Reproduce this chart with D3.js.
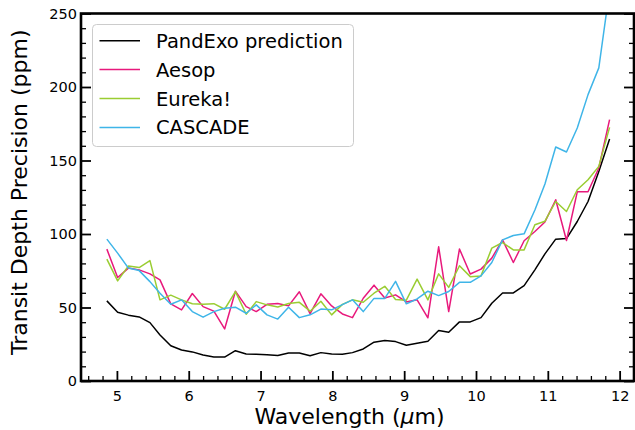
<!DOCTYPE html>
<html>
<head>
<meta charset="utf-8">
<script src="https://cdn.jsdelivr.net/npm/d3@7"></script>
<style>
  html, body { margin: 0; padding: 0; background: #fff; }
  svg { display: block; font-family: "DejaVu Sans", sans-serif; }
</style>
</head>
<body>
<svg id="chart" width="635" height="430"></svg>
<script>
// Wavelength bin centres (µm)
const wavelength = [4.86, 5.01, 5.16, 5.31, 5.46, 5.60, 5.75, 5.90, 6.05, 6.20,
  6.35, 6.50, 6.65, 6.80, 6.94, 7.09, 7.24, 7.39, 7.54, 7.69,
  7.84, 7.99, 8.14, 8.28, 8.43, 8.58, 8.73, 8.88, 9.03, 9.18,
  9.33, 9.48, 9.62, 9.77, 9.92, 10.07, 10.22, 10.37, 10.52, 10.67,
  10.82, 10.96, 11.11, 11.26, 11.41, 11.56, 11.71, 11.86];

// Transit depth precision per bin (ppm)
const pandexo = [54.5, 46.8, 44.8, 43.6, 39.7, 31.3, 24.0, 21.1, 19.8, 17.7,
  16.3, 16.3, 20.6, 18.4, 18.2, 17.9, 17.4, 19.1, 19.1, 17.2,
  19.3, 18.4, 18.2, 19.3, 21.8, 26.4, 27.5, 26.8, 24.3, 25.7,
  27.0, 34.3, 33.2, 40.2, 40.2, 43.1, 52.9, 59.9, 59.9, 64.9,
  75.6, 86.5, 96.5, 96.9, 108.5, 122.1, 142.6, 164.6];

const aesop = [89.7, 70.4, 76.8, 75.6, 72.9, 68.8, 52.5, 48.4, 59.5, 50.6,
  47.5, 35.4, 61.1, 50.6, 47.2, 52.2, 52.7, 51.1, 60.7, 45.8,
  59.3, 51.1, 45.6, 43.1, 56.3, 65.2, 56.5, 58.6, 53.8, 55.2,
  43.0, 91.3, 47.2, 89.8, 72.8, 76.1, 83.6, 96.0, 80.6, 95.4,
  101.7, 108.2, 123.3, 95.6, 128.7, 128.7, 144.9, 177.8];

const eureka = [82.9, 68.1, 78.3, 77.2, 81.9, 55.2, 58.4, 55.2, 52.5, 52.2,
  52.6, 48.8, 60.8, 45.4, 54.0, 51.8, 50.4, 52.7, 53.5, 47.5,
  54.3, 45.0, 52.1, 55.2, 53.6, 59.7, 64.4, 55.5, 55.0, 69.3,
  55.2, 72.9, 63.7, 78.4, 71.0, 71.5, 90.4, 94.2, 89.2, 89.2,
  106.3, 108.7, 122.1, 115.3, 130.1, 136.9, 146.0, 172.5];

const cascade = [96.5, 87.0, 76.8, 75.1, 67.6, 59.7, 52.2, 55.2, 47.2, 43.4,
  47.2, 49.5, 50.2, 46.1, 51.8, 45.0, 42.1, 50.2, 43.1, 45.0,
  48.9, 48.4, 52.0, 55.2, 47.2, 56.2, 56.2, 67.8, 52.5, 55.8,
  61.1, 58.1, 60.9, 67.1, 67.1, 71.5, 80.6, 96.0, 99.0, 100.1,
  116.3, 134.0, 159.2, 155.8, 172.1, 194.8, 213.0, 266.0];

const seriesNames = ["PandExo prediction", "Aesop", "Eureka!", "CASCADE"];
const seriesColors = ["#000000", "#e8197c", "#9acd32", "#3fb5e8"];
const seriesValues = [pandexo, aesop, eureka, cascade];

const xTicks = [5, 6, 7, 8, 9, 10, 11, 12];
const yTicks = [0, 50, 100, 150, 200, 250];

const svg = d3.select("#chart");
const plotLeft = 81, plotRight = 634, plotTop = 13.5, plotBottom = 381;

const x = d3.scaleLinear().domain([4.5, 12.2]).range([plotLeft, plotRight]);
const y = d3.scaleLinear().domain([0, 250]).range([plotBottom, plotTop]);

svg.append("defs").append("clipPath").attr("id", "plot-clip")
  .append("rect")
  .attr("x", plotLeft).attr("y", plotTop)
  .attr("width", plotRight - plotLeft).attr("height", plotBottom - plotTop);

// Series lines
const line = d3.line()
  .x((d, i) => x(wavelength[i]))
  .y(d => y(d));

const lines = svg.append("g").attr("clip-path", "url(#plot-clip)");
seriesValues.forEach((vals, k) => {
  lines.append("path")
    .datum(vals)
    .attr("d", line)
    .attr("fill", "none")
    .attr("stroke", seriesColors[k])
    .attr("stroke-width", 1.5)
    .attr("stroke-linejoin", "round");
});

// Axes with inward ticks
function styleAxis(g, w) {
  g.select(".domain").remove();
  g.selectAll(".tick line").attr("stroke", "#000").attr("stroke-width", w);
  g.selectAll(".tick text")
    .attr("fill", "#000")
    .style("font-family", "'DejaVu Sans', sans-serif")
    .style("font-size", "14.5px");
}

const xMinor = d3.range(46, 123, 2).map(v => v / 10).filter(v => !xTicks.includes(v));
const yMinor = d3.range(0, 251, 10).filter(v => v % 50 !== 0);

svg.append("g").attr("transform", `translate(0,${plotBottom})`)
  .call(d3.axisBottom(x).tickValues(xMinor).tickSize(-5).tickFormat(""))
  .call(g => styleAxis(g, 1.3));
svg.append("g").attr("transform", `translate(0,${plotBottom})`)
  .call(d3.axisBottom(x).tickValues(xTicks).tickSize(-10).tickPadding(10).tickFormat(d3.format("d")))
  .call(g => styleAxis(g, 1.8));

svg.append("g").attr("transform", `translate(${plotLeft},0)`)
  .call(d3.axisLeft(y).tickValues(yMinor).tickSize(-5).tickFormat(""))
  .call(g => styleAxis(g, 1.3));
svg.append("g").attr("transform", `translate(${plotLeft},0)`)
  .call(d3.axisLeft(y).tickValues(yTicks).tickSize(-10).tickPadding(4).tickFormat(d3.format("d")))
  .call(g => styleAxis(g, 1.8));

svg.append("g").attr("transform", `translate(${plotRight},0)`)
  .call(d3.axisRight(y).tickValues(yMinor).tickSize(-5).tickFormat(""))
  .call(g => styleAxis(g, 1.3));
svg.append("g").attr("transform", `translate(${plotRight},0)`)
  .call(d3.axisRight(y).tickValues(yTicks).tickSize(-10).tickFormat(""))
  .call(g => styleAxis(g, 1.8));

// Frame
svg.append("rect")
  .attr("x", plotLeft).attr("y", plotTop)
  .attr("width", plotRight - plotLeft).attr("height", plotBottom - plotTop)
  .attr("fill", "none").attr("stroke", "#000").attr("stroke-width", 2.6);

// Axis titles
const xTitle = svg.append("text")
  .attr("x", (plotLeft + plotRight) / 2 - 8).attr("y", 424)
  .attr("text-anchor", "middle")
  .style("font-size", "22px").attr("fill", "#000");
xTitle.append("tspan").text("Wavelength (");
xTitle.append("tspan").style("font-style", "italic").text("\u03bc");
xTitle.append("tspan").text("m)");

svg.append("text")
  .attr("transform", `translate(27,${(plotTop + plotBottom) / 2 - 5}) rotate(-90)`)
  .attr("text-anchor", "middle")
  .style("font-size", "22px").attr("fill", "#000")
  .text("Transit Depth Precision (ppm)");

// Legend
const legend = svg.append("g");
legend.append("rect")
  .attr("x", 92.5).attr("y", 24.5)
  .attr("width", 261).attr("height", 122)
  .attr("rx", 4).attr("ry", 4)
  .attr("fill", "#fff").attr("fill-opacity", 0.8)
  .attr("stroke", "#cccccc").attr("stroke-width", 1);

seriesNames.forEach((name, k) => {
  const ly = 40.7 + k * 28.9;
  legend.append("line")
    .attr("x1", 99.5).attr("x2", 140)
    .attr("y1", ly).attr("y2", ly)
    .attr("stroke", seriesColors[k]).attr("stroke-width", 1.5);
  legend.append("text")
    .attr("x", 156).attr("y", ly).attr("dy", "0.36em")
    .style("font-size", "19.5px").attr("fill", "#000")
    .text(name);
});
</script>
</body>
</html>
